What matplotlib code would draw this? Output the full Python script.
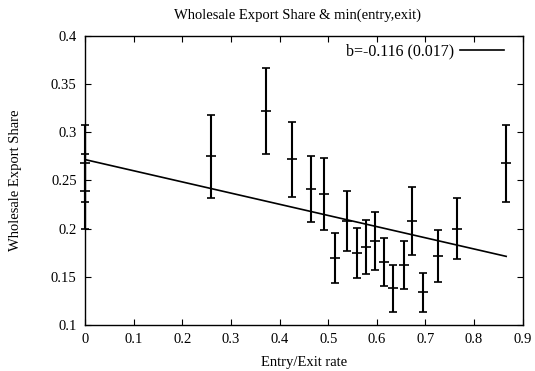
import numpy as np
import matplotlib
matplotlib.use('Agg')
from matplotlib import pyplot as plt

# data
rate = [0.0, 0.0, 0.259, 0.372, 0.426, 0.465, 0.492, 0.515, 0.539, 0.560,
        0.578, 0.597, 0.615, 0.633, 0.655, 0.672, 0.696, 0.726, 0.764, 0.866]
share = [0.268, 0.239, 0.275, 0.322, 0.272, 0.241, 0.236, 0.170, 0.208, 0.175,
         0.181, 0.187, 0.165, 0.138, 0.162, 0.208, 0.134, 0.172, 0.200, 0.268]
err = [0.040, 0.039, 0.043, 0.045, 0.039, 0.034, 0.037, 0.026, 0.031, 0.026,
       0.028, 0.030, 0.025, 0.024, 0.025, 0.035, 0.020, 0.027, 0.032, 0.040]

intercept = 0.2717
slope = -0.116
slope_se = 0.017

plt.rcParams['font.family'] = ['Liberation Serif', 'DejaVu Serif']
plt.rcParams['font.size'] = 10.5

fig = plt.figure(figsize=(5.35, 3.71), dpi=100)
ax = fig.add_axes([0.159, 0.124, 0.818, 0.779])

eb = ax.errorbar(rate, share, yerr=err, fmt='+', color='black', ms=7, mew=1.2,
                 elinewidth=1.5, capsize=3, capthick=1.2)
# keep the bars at x=0 whole
eb[0].set_clip_on(False)
for a in list(eb[1]) + list(eb[2]):
    a.set_clip_on(False)

xs = np.array([min(rate), max(rate)])
ax.plot(xs, intercept + slope * xs, color='black', lw=1.2,
        label='b=%.3f (%.3f)' % (slope, slope_se))

ax.set_xlim(0, 0.9)
ax.set_ylim(0.1, 0.4)
ax.set_xticks(np.arange(0, 0.91, 0.1))
ax.set_yticks(np.arange(0.1, 0.401, 0.05))
ax.set_xticklabels(['%g' % round(v, 2) for v in np.arange(0, 0.91, 0.1)])
ax.set_yticklabels(['%g' % round(v, 2) for v in np.arange(0.1, 0.401, 0.05)])
ax.tick_params(direction='in', top=True, right=True, length=4, width=0.8, pad=6)
for s in ax.spines.values():
    s.set_linewidth(1.0)

ax.set_title('Wholesale Export Share & min(entry,exit)', fontsize=10.5, pad=12, x=0.485)
ax.set_xlabel('Entry/Exit rate', labelpad=7)
ax.set_ylabel('Wholesale Export Share', labelpad=21)

leg = ax.legend(loc='upper right', frameon=False, markerfirst=False,
                handlelength=2.75, borderaxespad=0.0, handletextpad=0.35,
                bbox_to_anchor=(0.972, 0.997), fontsize=11.5)

fig.savefig('out.png', dpi=100)
